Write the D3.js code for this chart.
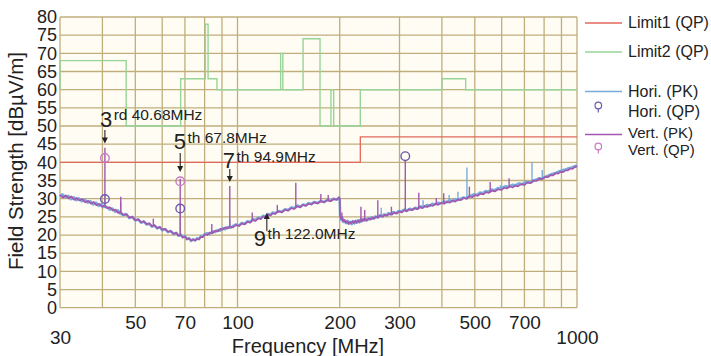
<!DOCTYPE html>
<html>
<head>
<meta charset="utf-8">
<script src="https://d3js.org/d3.v7.min.js"></script>
<style>
  body { margin: 0; background: #fff; }
  svg { display: block; font-family: "Liberation Sans", Arial, sans-serif; }
</style>
</head>
<body>
<div id="chart"></div>
<script>
// axis ticks
const yTicks = [0, 5, 10, 15, 20, 25, 30, 35, 40, 45, 50, 55, 60, 65, 70, 75, 80];
const xTickLabels = [30, 50, 70, 100, 200, 300, 500, 700, 1000];
const xGrid = [30, 40, 50, 60, 70, 80, 90, 100, 200, 300, 400, 500, 600, 700, 800, 900, 1000];

// limit lines [MHz, dBuV/m]
const limit1 = [[30, 40], [230, 40], [230, 47], [1000, 47]];
const limit2 = [[30, 60], [30, 68], [47, 68], [47, 50], [68, 50], [68, 63], [80.4, 63], [80.4, 78], [81.9, 78],
  [81.9, 63], [87, 63], [87, 60], [134, 60], [134, 70], [136, 70], [136, 60], [156, 60], [156, 74], [175, 74],
  [175, 50], [188.5, 50], [188.5, 60], [192, 60], [192, 50], [230, 50], [230, 60], [400, 60], [400, 63],
  [470, 63], [470, 60], [1000, 60]];

// horizontal peak noise floor, 30-200 and 200-1000 MHz
const horiLow = [[30, 30.6], [30.5, 31.2], [31.1, 30.4], [31.7, 30.8], [32.3, 29.9], [32.9, 30.4], [33.5, 29.6],
  [34.1, 30.1], [34.8, 29.3], [35.5, 29.7], [36.2, 28.9], [36.9, 29.3], [37.6, 28.4], [38.3, 28.9], [39, 28.0],
  [39.7, 28.5], [40.3, 27.7], [41.2, 27.8], [42, 27.0], [42.8, 27.3], [43.6, 26.4], [44.4, 26.8], [45.2, 25.9],
  [46.1, 25.5], [47, 25.8], [48, 24.7], [49, 25.0], [50, 24.0], [51, 24.3], [52, 23.4], [53, 23.7], [54, 22.9],
  [55, 23.1], [56, 22.3], [57, 22.6], [58, 21.8], [59, 22.2], [60, 21.3], [61.2, 21.6], [62.4, 20.8], [63.6, 21.1],
  [64.8, 20.3], [66, 20.6], [67, 19.8], [68.2, 20.1], [69, 19.4], [70, 19.7], [71, 18.9], [72, 19.1], [73, 18.4],
  [74, 18.8], [75, 18.5], [76, 19.1], [77, 18.9], [78, 19.7], [79, 19.6], [80, 20.2], [81.5, 20.5], [83, 20.3],
  [84.5, 21.0], [86, 20.8], [87.5, 21.4], [89, 21.2], [90.5, 21.9], [92, 21.6], [93.5, 22.2], [95.5, 22.0],
  [97, 22.5], [99, 22.9], [101, 22.6], [103, 23.3], [105, 23.1], [107, 23.8], [109, 23.6], [111, 24.4], [113, 24.1],
  [115, 24.8], [117, 24.6], [119, 25.3], [121, 25.1], [123, 25.8], [125, 25.5], [127, 26.2], [129, 26.0],
  [132, 26.6], [135, 26.4], [138, 27.1], [141, 26.9], [144, 27.6], [147, 27.4], [150, 28.1], [153, 27.8],
  [156, 28.4], [159, 28.2], [162, 28.8], [165, 28.5], [168, 29.1], [172, 28.8], [176, 29.4], [180, 29.1],
  [184, 29.7], [188, 29.4], [192, 30.0], [196, 29.8], [200, 30.4]];
const horiHigh = [[200, 30.0], [200.6, 25.0], [202, 24.2], [203.5, 24.8], [205, 23.6], [207, 24.0], [209, 23.3],
  [211, 23.9], [213, 23.1], [215, 23.6], [217, 23.0], [219, 23.8], [221, 23.2], [223, 23.9], [225, 23.4],
  [227, 24.0], [229, 23.5], [231, 24.4], [233, 23.9], [235, 24.4], [239, 24.0], [242, 24.6], [245, 24.3],
  [248, 24.9], [251, 24.5], [254, 25.1], [258, 24.8], [262, 25.4], [266, 25.1], [270, 25.7], [274, 25.4],
  [278, 26.0], [282, 25.7], [288, 26.3], [293, 26.0], [298, 26.6], [303, 26.4], [308, 26.9], [312, 27.0],
  [316, 26.7], [322, 27.2], [328, 27.0], [334, 27.5], [340, 27.3], [346, 27.9], [352, 27.6], [356, 27.8],
  [362, 28.3], [368, 28.0], [375, 28.6], [382, 28.4], [390, 28.9], [398, 28.7], [406, 29.2], [414, 29.0],
  [422, 29.6], [430, 29.3], [438, 29.9], [446, 29.6], [452, 29.9], [462, 30.3], [474, 30.1], [478, 30.5],
  [488, 30.9], [498, 31.2], [508, 31.0], [518, 31.7], [528, 31.5], [538, 32.1], [548, 31.9], [560, 32.5],
  [572, 32.3], [585, 32.9], [595, 32.7], [602, 33.0], [615, 33.4], [630, 33.3], [645, 33.8], [660, 33.7],
  [675, 34.2], [690, 34.0], [705, 34.6], [720, 34.5], [737, 34.6], [745, 35.0], [760, 35.3], [775, 35.6],
  [790, 35.5], [805, 36.0], [825, 36.4], [845, 36.8], [865, 37.1], [885, 37.5], [905, 37.8], [925, 38.0],
  [945, 38.4], [965, 38.6], [985, 38.9], [1000, 39.2]];

// vertical peak noise floor
const vertLow = [[30, 31.0], [30.6, 30.3], [31.2, 30.9], [31.8, 30.1], [32.4, 30.6], [33, 29.7], [33.6, 30.2],
  [34.2, 29.5], [34.9, 29.9], [35.6, 29.0], [36.3, 29.4], [37, 28.6], [37.7, 29.1], [38.4, 28.2], [39.1, 28.6],
  [39.8, 27.8], [40.5, 28.1], [41.3, 27.4], [42.1, 27.6], [42.9, 26.8], [43.7, 27.0], [44.5, 26.1], [45.3, 26.3],
  [46.2, 25.5], [47.1, 25.7], [48, 24.8], [49, 25.0], [50, 24.1], [51, 24.3], [52, 23.5], [53, 23.8], [54, 23.0],
  [55, 23.2], [56, 22.4], [57, 22.7], [58, 21.9], [59, 22.2], [60, 21.5], [61.2, 21.7], [62.4, 20.9], [63.6, 21.1],
  [64.8, 20.3], [66, 20.6], [67, 19.8], [68, 20.0], [69, 19.3], [70, 19.6], [71, 18.8], [72, 19.1], [73, 18.5],
  [74, 18.8], [75, 18.5], [76, 18.9], [77, 18.8], [78, 19.5], [79, 19.4], [80, 20.2], [81.5, 20.0], [83, 20.7],
  [84.5, 20.5], [86, 21.2], [87.5, 21.0], [89, 21.7], [90.5, 21.5], [92, 22.1], [93.5, 21.8], [95, 22.3],
  [97, 22.1], [99, 22.8], [101, 22.5], [103, 23.2], [105, 22.9], [107, 23.6], [109, 23.4], [111, 24.1],
  [113, 23.9], [115, 24.6], [117, 24.4], [119, 25.1], [121, 24.9], [123, 25.6], [125, 25.4], [127, 26.0],
  [129, 25.8], [132, 26.5], [135, 26.2], [138, 26.9], [141, 26.7], [144, 27.4], [147, 27.2], [150, 27.9],
  [153, 27.6], [156, 28.3], [159, 28.0], [162, 28.6], [165, 28.4], [168, 29.0], [172, 28.7], [176, 29.3],
  [180, 29.0], [184, 29.6], [188, 29.3], [192, 29.9], [196, 29.7], [200, 30.5]];
const vertHigh = [[200, 30.3], [200.3, 25.2], [202, 24.5], [203, 24.9], [204, 23.8], [206, 24.2], [208, 23.4],
  [210, 23.8], [212, 23.1], [214, 23.6], [216, 23.2], [218, 23.8], [220, 23.3], [222, 23.9], [224, 23.4],
  [226, 24.0], [228, 23.6], [230, 24.1], [232, 23.7], [234, 24.3], [236, 23.9], [238, 24.4], [241, 24.0],
  [244, 24.6], [247, 24.3], [250, 24.8], [253, 24.5], [256, 25.1], [260, 24.8], [264, 25.4], [268, 25.0],
  [272, 25.6], [276, 25.3], [280, 25.9], [285, 25.6], [290, 26.2], [295, 25.9], [300, 26.5], [305, 26.2],
  [310, 26.8], [315, 26.5], [320, 27.1], [326, 26.8], [332, 27.4], [338, 27.1], [344, 27.7], [350, 27.4],
  [356, 28.0], [362, 27.7], [369, 28.3], [376, 28.0], [383, 28.6], [390, 28.3], [398, 28.9], [406, 28.6],
  [414, 29.2], [422, 28.9], [430, 29.5], [438, 29.2], [446, 29.8], [455, 29.6], [464, 30.2], [473, 30.0],
  [482, 30.6], [491, 30.4], [500, 31.0], [510, 30.8], [520, 31.4], [530, 31.2], [540, 31.8], [550, 31.6],
  [562, 32.2], [574, 32.0], [586, 32.6], [598, 32.4], [610, 33.0], [622, 32.8], [634, 33.4], [646, 33.1],
  [658, 33.6], [670, 33.4], [685, 34.0], [700, 33.8], [715, 34.5], [730, 34.3], [745, 35.0], [760, 34.9],
  [775, 35.5], [790, 35.4], [805, 36.0], [820, 35.9], [835, 36.5], [850, 36.4], [865, 37.0], [880, 36.9],
  [895, 37.4], [910, 37.3], [925, 37.8], [940, 37.8], [955, 38.3], [970, 38.2], [985, 38.7], [1000, 38.9]];

// narrow peaks [MHz, floor, peak]
const horiSpikes = [[40.68, 28.0, 31.0], [45.3, 26.0, 29.0], [67.8, 20.0, 28.5], [94.9, 22.0, 24.5],
  [265, 25.2, 27.5], [352, 27.6, 29.6], [420, 29.0, 31.0], [446, 29.5, 31.9], [474, 30.1, 38.6],
  [595, 32.5, 33.7], [737, 34.3, 40.1], [790, 35.4, 37.9]];
const vertSpikes = [[40.68, 28.0, 44.0], [45.3, 26.2, 30.5], [56.5, 22.5, 24.5], [67.8, 19.9, 35.5],
  [84, 20.6, 23.0], [94.9, 22.2, 33.5], [110.5, 24.0, 26.2], [131, 26.2, 28.3], [148.5, 27.5, 34.4],
  [176, 29.1, 31.3], [185, 29.4, 31.0], [203, 24.7, 26.2], [231, 23.9, 27.8], [237, 24.1, 26.9],
  [259, 24.9, 29.6], [284, 25.7, 27.8], [312, 26.7, 40.5], [342, 27.2, 31.6], [385, 28.3, 30.2],
  [405, 28.7, 31.5], [482, 30.4, 33.3], [555, 31.8, 34.6], [631, 33.0, 35.6]];

// quasi-peak results
const horiQP = [[40.68, 29.9], [67.8, 27.3], [312, 41.7]];
const vertQP = [[40.68, 41.2], [67.8, 34.8]];

// harmonic notes
const harmOrder = ["3", "5", "7", "9"];
const harmSuffix = ["rd 40.68MHz", "th 67.8MHz", "th 94.9MHz", "th 122.0MHz"];
const harmFreq = [40.68, 67.8, 94.9, 122.0];

const legendNames = ["Limit1 (QP)", "Limit2 (QP)", "Hori. (PK)", "Hori. (QP)", "Vert. (PK)", "Vert. (QP)"];

// colours
const cRed = "#e2685c", cGreen = "#98d498", cBlue = "#78acdc", cPurple = "#a257b0";
const cHoriQP = "#6a5aae", cVertQP = "#c67cc6", cGrid = "#bfae7c";

var svgWidth = 711, svgHeight = 356;
var svg = d3.select("#chart").append("svg")
    .attr("width", svgWidth)
    .attr("height", svgHeight);

var x = d3.scaleLog().domain([30, 1000]).range([60, 577]);
var y = d3.scaleLinear().domain([0, 80]).range([307.7, 17]);

// plot background
svg.append("rect")
    .attr("x", x(30)).attr("y", y(80))
    .attr("width", x(1000) - x(30)).attr("height", y(0) - y(80))
    .attr("fill", "#fffdf3");

// grid
svg.append("g").selectAll("line")
    .data(xGrid).enter().append("line")
    .attr("x1", d => x(d)).attr("x2", d => x(d))
    .attr("y1", y(0)).attr("y2", y(80))
    .attr("stroke", cGrid).attr("stroke-width", 1.3);
svg.append("g").selectAll("line")
    .data(yTicks).enter().append("line")
    .attr("x1", x(30)).attr("x2", x(1000))
    .attr("y1", d => y(d)).attr("y2", d => y(d))
    .attr("stroke", cGrid).attr("stroke-width", 1.3);

// axes (labels only)
var yAxis = svg.append("g")
    .attr("transform", "translate(60,0)")
    .call(d3.axisLeft(y).tickValues(yTicks).tickSize(0).tickPadding(3));
yAxis.select(".domain").remove();
yAxis.selectAll("text").style("font-size", "18px").attr("fill", "#222");

var xAxis = svg.append("g")
    .attr("transform", `translate(0,${y(0)})`)
    .call(d3.axisBottom(x).tickValues(xTickLabels).tickFormat(d3.format("d")).tickSize(0));
xAxis.select(".domain").remove();
xAxis.selectAll("text")
    .style("font-size", "19px").attr("fill", "#222")
    .attr("y", d => (d === 30 || d === 1000) ? 22.8 : 8.1);

svg.append("text")
    .attr("x", 308).attr("y", 352.5)
    .attr("text-anchor", "middle")
    .style("font-size", "20px").attr("fill", "#222")
    .text("Frequency [MHz]");

svg.append("text")
    .attr("transform", "translate(23,161) rotate(-90)")
    .attr("text-anchor", "middle")
    .style("font-size", "20.5px").attr("fill", "#222")
    .text("Field Strength [dBµV/m]");

// limits
var line = d3.line().x(d => x(d[0])).y(d => y(d[1]));
svg.append("path").datum(limit2)
    .attr("d", line).attr("fill", "none")
    .attr("stroke", cGreen).attr("stroke-width", 1.4);
svg.append("path").datum(limit1)
    .attr("d", line).attr("fill", "none")
    .attr("stroke", cRed).attr("stroke-width", 1.3);

// peak traces
function drawTrace(segments, spikes, color, w) {
    segments.forEach(function(seg) {
        svg.append("path").datum(seg)
            .attr("d", line).attr("fill", "none")
            .attr("stroke", color).attr("stroke-width", w)
            .attr("stroke-linejoin", "round");
    });
    svg.append("g").selectAll("line")
        .data(spikes).enter().append("line")
        .attr("x1", d => x(d[0])).attr("x2", d => x(d[0]))
        .attr("y1", d => y(d[1])).attr("y2", d => y(d[2]))
        .attr("stroke", color).attr("stroke-width", 1.4);
}
drawTrace([horiLow, horiHigh], horiSpikes, cBlue, 2.6);
drawTrace([vertLow, vertHigh], vertSpikes, cPurple, 1.7);

// QP markers
function drawQP(data, color) {
    svg.append("g").selectAll("circle")
        .data(data).enter().append("circle")
        .attr("cx", d => x(d[0])).attr("cy", d => y(d[1]))
        .attr("r", 4.3)
        .attr("fill", "none").attr("stroke", color).attr("stroke-width", 1.4);
}
drawQP(horiQP, cHoriQP);
drawQP(vertQP, cVertQP);

// harmonic annotations
var notePos = [
    { dx: -5, base: 126.6, a0: 130, a1: 143.5 },
    { dx: -6.5, base: 149.3, a0: 153, a1: 172 },
    { dx: -7, base: 168.3, a0: 169, a1: 182 },
    { dx: -13, base: 245.5, a0: 231, a1: 213 }
];
harmOrder.forEach(function(n, i) {
    var p = notePos[i], ax = x(harmFreq[i]);
    var t = svg.append("text")
        .attr("x", ax + p.dx).attr("y", p.base)
        .attr("fill", "#222");
    t.append("tspan").style("font-size", "22px").text(n);
    t.append("tspan").attr("dx", 1.5).attr("dy", -6.5).style("font-size", "15.5px").text(harmSuffix[i]);

    var dir = p.a1 > p.a0 ? 1 : -1;
    svg.append("line")
        .attr("x1", ax).attr("x2", ax)
        .attr("y1", p.a0).attr("y2", p.a1 - dir * 5)
        .attr("stroke", "#222").attr("stroke-width", 1.1);
    svg.append("path")
        .attr("d", `M${ax - 3},${p.a1 - dir * 6}L${ax + 3},${p.a1 - dir * 6}L${ax},${p.a1}Z`)
        .attr("fill", "#222");
});

// legend
var lg = svg.append("g");
var legendY = [23, 52, 91.5, 112, 132.5, 149.5];
legendNames.forEach(function(name, i) {
    lg.append("text")
        .attr("x", 628).attr("y", legendY[i] + 5.3)
        .style("font-size", i >= 4 ? "15px" : "16px").attr("fill", "#222")
        .text(name);
});
[[cRed, 0], [cGreen, 1], [cBlue, 2], [cPurple, 4]].forEach(function(d) {
    lg.append("line")
        .attr("x1", 585).attr("x2", 622)
        .attr("y1", d[1] === 4 ? 134.5 : legendY[d[1]]).attr("y2", d[1] === 4 ? 134.5 : legendY[d[1]])
        .attr("stroke", d[0]).attr("stroke-width", 1.3);
});
[[cHoriQP, 105.5], [cVertQP, 146.5]].forEach(function(d) {
    lg.append("line")
        .attr("x1", 598.3).attr("x2", 598.3)
        .attr("y1", d[1] + 3.3).attr("y2", d[1] + 7)
        .attr("stroke", d[0]).attr("stroke-width", 1.2);
    lg.append("circle")
        .attr("cx", 598.3).attr("cy", d[1]).attr("r", 3.3)
        .attr("fill", "none").attr("stroke", d[0]).attr("stroke-width", 1.2);
});
</script>
</body>
</html>
